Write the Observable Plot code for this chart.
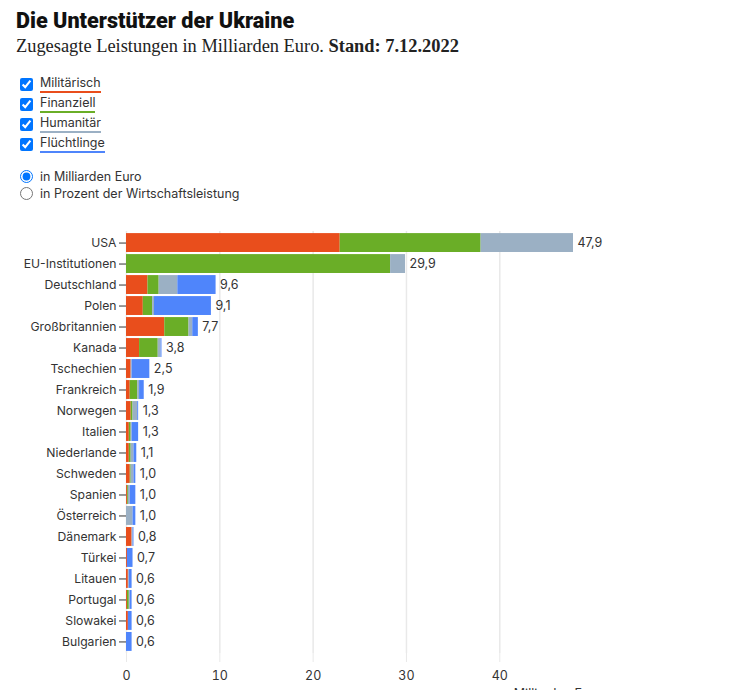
<!DOCTYPE html>
<html>
<head>
<meta charset="utf-8">
<script src="https://cdn.jsdelivr.net/npm/d3@7"></script>
<script src="https://cdn.jsdelivr.net/npm/@observablehq/plot@0.6"></script>
<style>
  html, body { margin: 0; padding: 0; background: #fff; }
  body { font-family: Inter, "Noto Sans", sans-serif; color: #333; width: 739px; height: 690px; position: relative; overflow: hidden; }
  .title { position: absolute; left: 16px; top: 8px; font-family: Roboto, Inter, sans-serif; font-weight: 900; font-size: 21.6px; line-height: 26px; color: #111; }
  .subtitle { position: absolute; left: 16px; top: 34px; font-family: "Liberation Serif", serif; font-size: 18.4px; line-height: 24px; color: #222; }
  .subtitle b { font-weight: 700; }
  .legend { position: absolute; left: 16px; top: 74px; font-size: 12.5px; }
  .legend label { display: flex; align-items: center; height: 20px; }
  .legend input { margin: 0 7px 0 4px; width: 13px; height: 13px; accent-color: #0075ff; }
  .legend span { border-bottom: 2px solid; line-height: 14px; padding-bottom: 1px; color: #333; }
  .radios { position: absolute; left: 16px; top: 168px; font-size: 12.5px; }
  .radios label { display: flex; align-items: center; height: 17px; }
  .radios input { margin: 0 7px 0 4px; width: 13px; height: 13px; accent-color: #0075ff; }
  #chart { position: absolute; left: 0; top: 216px; }
</style>
</head>
<body>
<div class="title">Die Unterstützer der Ukraine</div>
<div class="subtitle">Zugesagte Leistungen in Milliarden Euro. <b>Stand: 7.12.2022</b></div>
<div class="legend" id="legend"></div>
<div class="radios">
  <label><input type="radio" name="m" checked>in Milliarden Euro</label>
  <label><input type="radio" name="m">in Prozent der Wirtschaftsleistung</label>
</div>
<div id="chart"></div>
<script>
const countries = ["USA","EU-Institutionen","Deutschland","Polen","Großbritannien","Kanada","Tschechien","Frankreich","Norwegen","Italien","Niederlande","Schweden","Spanien","Österreich","Dänemark","Türkei","Litauen","Portugal","Slowakei","Bulgarien"];
const militaerisch = [22.9, 0, 2.3, 1.8, 4.1, 1.4, 0.5, 0.4, 0.5, 0.3, 0.3, 0.4, 0.1, 0, 0.6, 0.1, 0.2, 0.1, 0.2, 0];
const finanziell   = [15.1, 28.3, 1.2, 1.0, 2.6, 2.0, 0, 0.8, 0.2, 0.2, 0.2, 0.1, 0.1, 0, 0, 0, 0, 0.2, 0, 0];
const humanitaer   = [9.9, 1.6, 2.0, 0.2, 0.4, 0.3, 0.1, 0.2, 0.5, 0.1, 0.3, 0.3, 0.2, 0.7, 0.1, 0, 0.1, 0.1, 0, 0];
const fluechtlinge = [0, 0, 4.1, 6.1, 0.6, 0.1, 1.9, 0.5, 0.1, 0.7, 0.3, 0.2, 0.6, 0.3, 0.1, 0.6, 0.3, 0.2, 0.4, 0.6];
const totals = [47.9, 29.9, 9.6, 9.1, 7.7, 3.8, 2.5, 1.9, 1.3, 1.3, 1.1, 1.0, 1.0, 1.0, 0.8, 0.7, 0.6, 0.6, 0.6, 0.6];
const categories = ["Militärisch", "Finanziell", "Humanitär", "Flüchtlinge"];
const colors = ["#e94e1c", "#6aae27", "#9bb0c4", "#4f85fb"];
const xTicks = [0, 10, 20, 30, 40];

// legend
const legend = document.getElementById("legend");
categories.forEach((c, i) => {
  const l = document.createElement("label");
  l.innerHTML = `<input type="checkbox" checked><span style="border-color:${colors[i]}">${c}</span>`;
  legend.appendChild(l);
});

const series = [militaerisch, finanziell, humanitaer, fluechtlinge];
const rows = [];
countries.forEach((country, i) => {
  categories.forEach((cat, j) => {
    rows.push({country, cat, value: series[j][i]});
  });
});
const totalRows = countries.map((country, i) => ({country, total: totals[i]}));
const fmt = v => v.toFixed(1).replace(".", ",");

const chart = Plot.plot({
  width: 620,
  height: 487,
  marginLeft: 126,
  marginRight: 47,
  marginTop: 15,
  marginBottom: 50,
  style: {fontFamily: "Inter, sans-serif", fontSize: "12.2px", color: "#333", overflow: "visible"},
  x: {domain: [0, 47.9], ticks: xTicks, label: null},
  y: {domain: countries, padding: 0.1, round: false, label: null},
  color: {domain: categories, range: colors},
  marks: [
    Plot.gridX(xTicks, {stroke: "#e9e9e9", strokeOpacity: 1, strokeWidth: 1.5}),
    Plot.axisX({ticks: xTicks, tickSize: 9, tickPadding: 9, stroke: "#e9e9e9", fill: "#333", label: null, fontSize: 12.5}),
    Plot.axisY({tickSize: 7, tickPadding: 3, stroke: "#333", fill: "#333", label: null, fontSize: 12.2}),
    Plot.barX(rows, Plot.stackX({x: "value", y: "country", fill: "cat", order: categories})),
    Plot.text(totalRows, {x: "total", y: "country", text: d => fmt(d.total), textAnchor: "start", dx: 4, fill: "#333", fontSize: 12.5}),
    Plot.text(["Milliarden Euro"], {frameAnchor: "bottom-right", dx: 28, dy: 44, textAnchor: "end", fill: "#333", fontSize: 12.5})
  ]
});
document.getElementById("chart").appendChild(chart);
</script>
</body>
</html>
